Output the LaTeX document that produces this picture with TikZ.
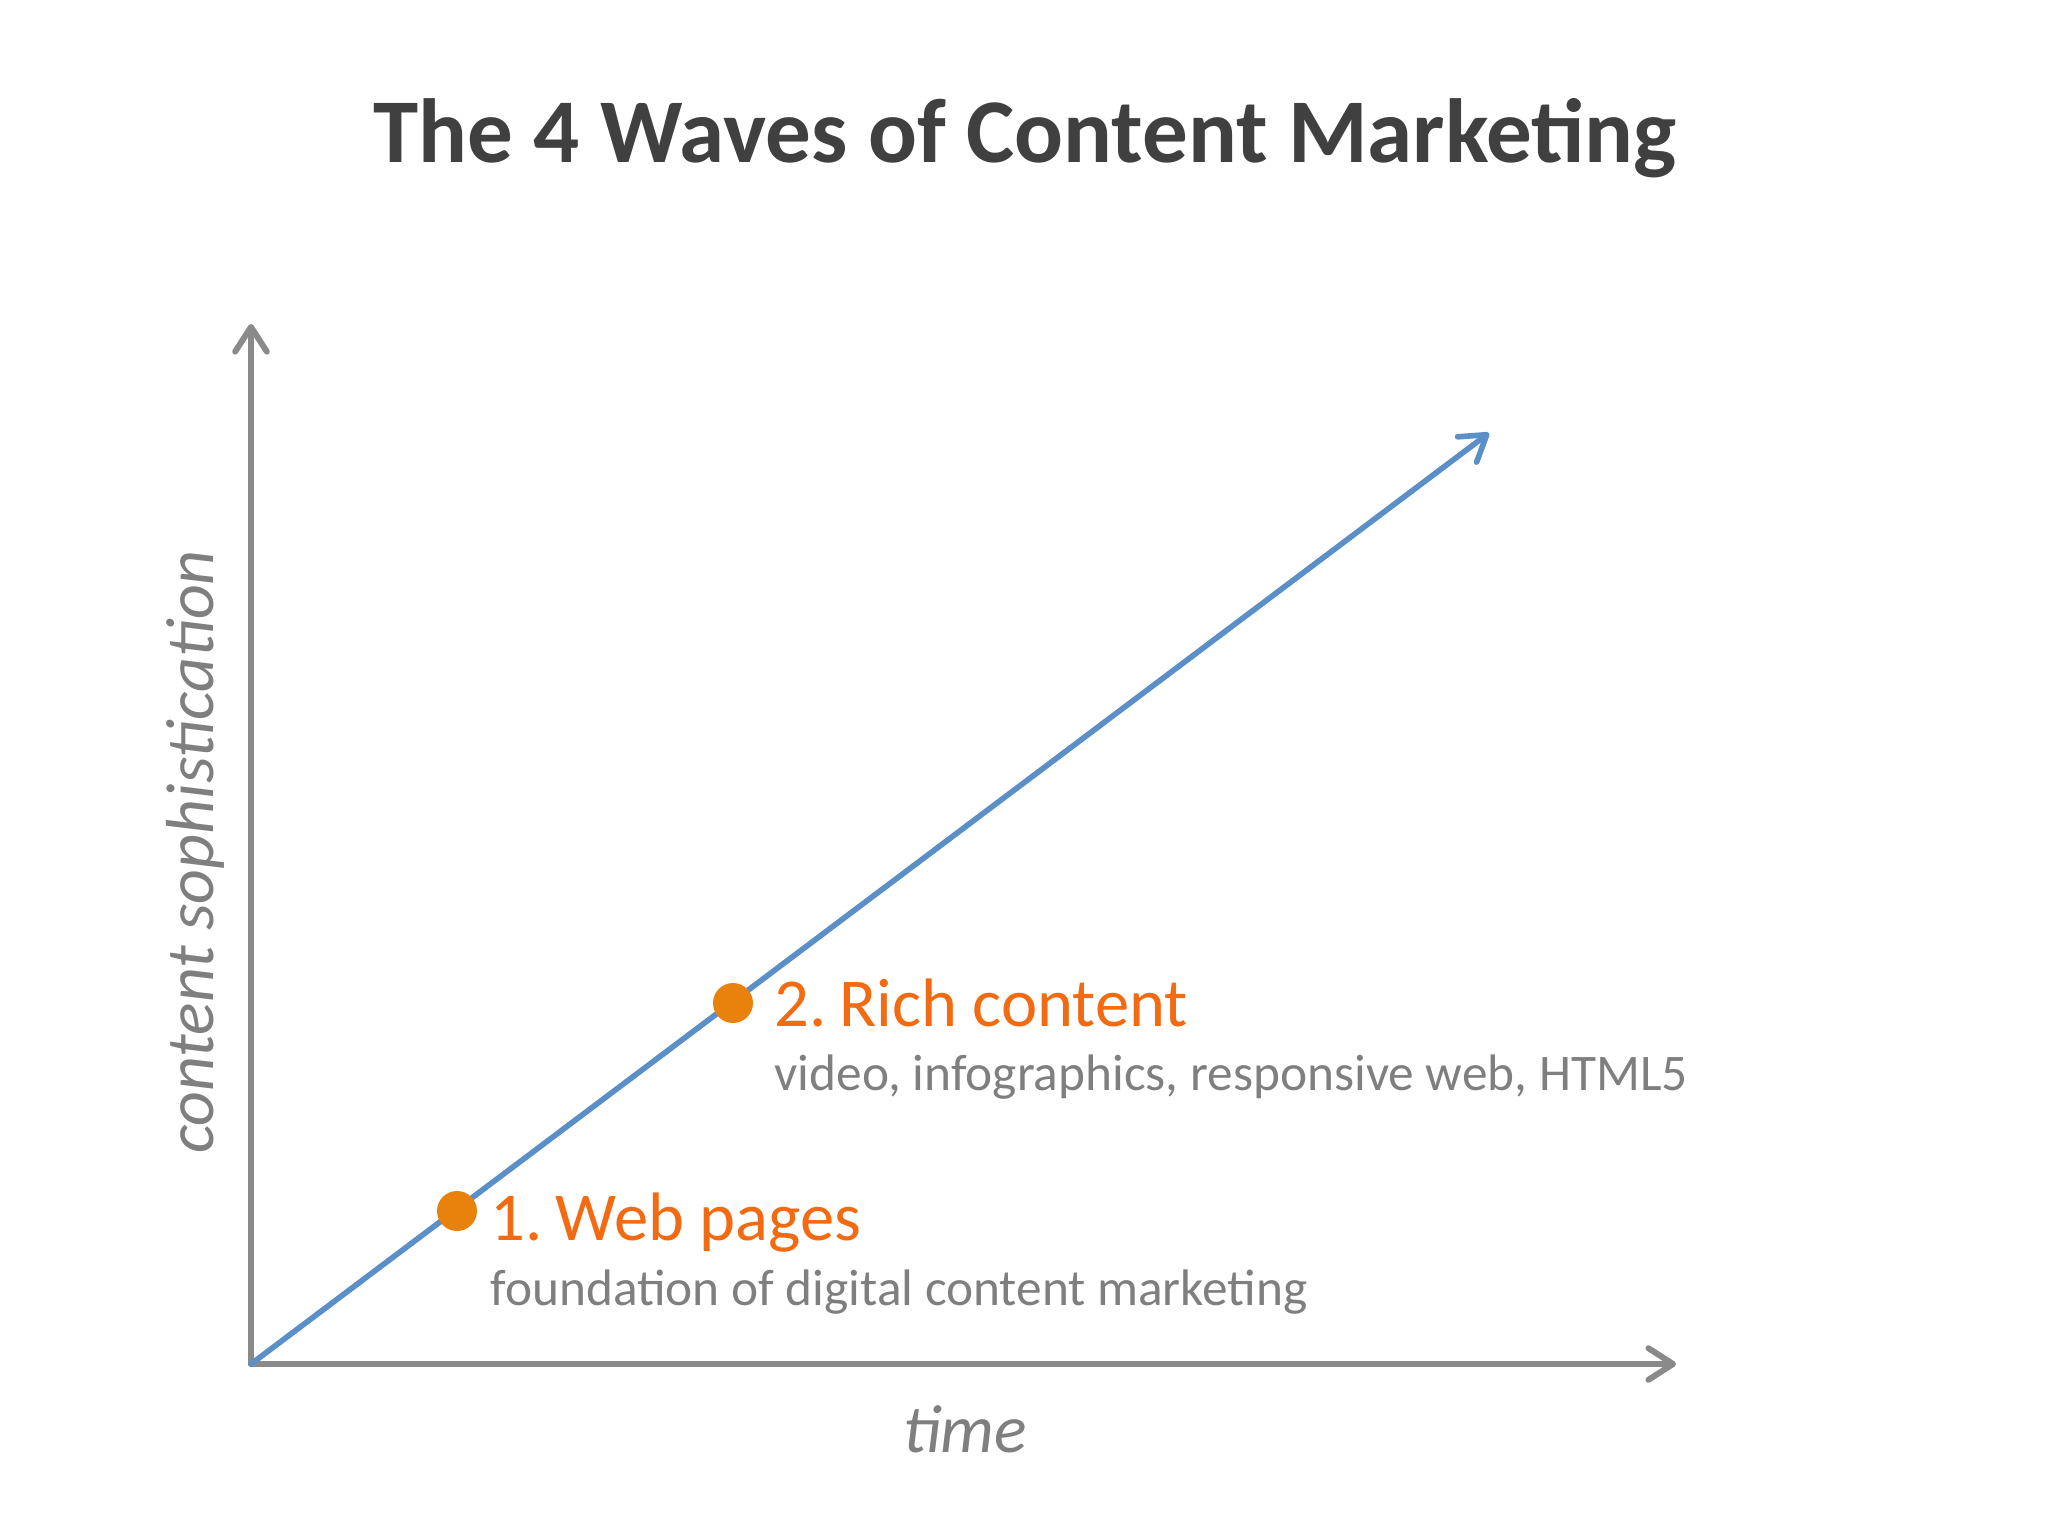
\documentclass[tikz,border=0pt]{standalone}
\usepackage{fontspec}
\setmainfont{Carlito}
\usetikzlibrary{arrows.meta}
\definecolor{titlegray}{HTML}{404040}
\definecolor{axisgray}{HTML}{8A8A8A}
\definecolor{textgray}{HTML}{7F7F7F}
\definecolor{lineblue}{HTML}{5B8FC7}
\definecolor{dotorange}{HTML}{E8820C}
\definecolor{labelorange}{HTML}{F26B12}
\tikzset{
  axis/.style={draw=axisgray, line width=1.7pt, line cap=round,
    -{Straight Barb[length=7pt,width=9pt,line cap=round,line join=round]}},
  trend/.style={draw=lineblue, line width=1.6pt, line cap=round,
    -{Straight Barb[length=7pt,width=9pt,line cap=round,line join=round]}},
  wavedot/.style={circle, fill=dotorange, inner sep=0pt, minimum size=40*0.2845pt},
  wavetitle/.style={anchor=base west, inner sep=0pt, text=labelorange, font=\fontsize{19.5}{23}\selectfont},
  wavesub/.style={anchor=base west, inner sep=0pt, text=textgray, font=\fontsize{14.6}{17}\selectfont},
  axislabel/.style={anchor=base, inner sep=0pt, text=textgray, font=\fontsize{19.3}{23}\selectfont\itshape},
}
\begin{document}
\begin{tikzpicture}[x=0.01cm, y=-0.01cm]
\useasboundingbox (0,0) rectangle (2048,1536);
\node[anchor=base, inner sep=0pt, text=titlegray, font=\fontsize{25.9}{31}\selectfont\bfseries] (title) at (1025,162) {The 4 Waves of Content Marketing};

\coordinate (o) at (251,1364);
\coordinate (ytip) at (251,324);
\coordinate (xtip) at (1676,1364);
\coordinate (btip) at (1489,433);

\draw[axis] (o) -- (ytip);
\draw[axis] (o) -- (xtip);
\draw[trend] (o) -- (btip);

\node[wavedot] (d1) at (457,1211) {};
\node[wavedot] (d2) at (733,1003) {};

\node[wavetitle] (t1) at (490,1240) {1.\kern-0.04em\ Web pages};
\node[wavesub] (s1) at (490,1305) {foundation of digital content marketing};
\node[wavetitle] (t2) at (774,1026) {2.\kern-0.04em\ Rich content};
\node[wavesub] (s2) at (774,1090) {video, infographics, responsive web, HTML5};

\node[axislabel] (xl) at (965,1452) {time};
\node[axislabel, rotate=90] (yl) at (213,852) {content sophistication};
\end{tikzpicture}
\end{document}
